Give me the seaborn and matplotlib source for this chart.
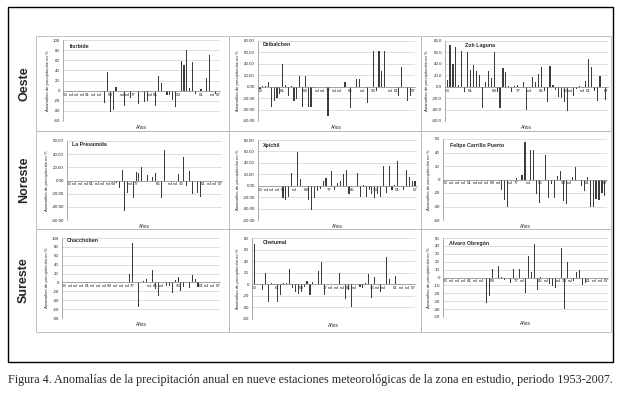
import pandas as pd
import matplotlib
matplotlib.use("Agg")
import matplotlib.pyplot as plt
from matplotlib.patches import Rectangle
from matplotlib.ticker import FormatStrFormatter, MultipleLocator
import seaborn as sns

# --- CONFIGURATION ---
W, H = 619, 393
BAR = "#3c3c3c"
GRID = "#c4c4c4"
BORDER = "#b8b8b8"

sns.set_theme(style="white")
plt.rcParams["font.family"] = ["Liberation Sans", "DejaVu Sans"]

nd = None  # sin dato

YEARS = list(range(1953, 2008))

ITURBIDE = [nd, nd, nd, nd, nd, nd, nd, nd, nd, nd,
            nd, nd, nd, nd, -25, 37, -43, -38, 8, nd,
            nd, -31, nd, -15, nd, nd, -26, nd, -23, -21,
            nd, nd, -31, 28, 15, nd, -8, -9, -18, -33,
            nd, 58, 51, 81, 6, 57, -6, nd, 3, nd,
            25, 71, nd, -6, nd]

DZIBALCHEN = [-4, 0.5, 1, 9, -35, -25, -20, -12, 39, 3,
              -16, 2, -25, -22, 19, -35, 19, -36, -36, -3,
              nd, nd, nd, nd, -51, nd, nd, nd, nd, nd,
              8, nd, -37, nd, 14, 13, nd, nd, -29, nd,
              63, -8, 63, 27, 62, nd, nd, nd, nd, -16,
              34, nd, -25, -17, nd]

ZOH_LAGUNA = [11, 73, 39, 69, 3, 62, -10, 60, 29, 38,
              27, 21, -38, 9, 28, 15, 60, -9, -38, 32,
              25, 2, -10, 0.5, 3, -1, 9, -41, nd, 17,
              8, 22, 35, -7, -26, 37, 3, -6, -18, -19,
              -26, -43, nd, -16, -4, 1, nd, 10, 49, 35,
              -7, -25, 19, nd, -23]

LA_PRESUMIDA = [nd, nd, nd, nd, nd, nd, nd, nd, nd, nd,
                nd, nd, nd, nd, nd, nd, nd, -4, -11, 16,
                -46, -19, nd, -27, 13, 12, 21, nd, 8, nd,
                6, 12, nd, -26, 46, nd, nd, nd, nd, 10,
                nd, 36, -8, 14, -21, nd, -19, -25, nd, nd,
                nd, nd, nd, nd, nd]

XPICHIL = [nd, nd, nd, nd, nd, nd, nd, nd, -22, -25,
           -19, 23, nd, 59, 11, nd, nd, -25, -43, -22,
           -10, -6, 8, 14, nd, 26, -8, 5, 8, 20,
           28, -14, -3, nd, 23, -19, 2, -19, -8, -14,
           -22, -15, -19, 35, -12, 35, -8, 2, 43, nd,
           -8, 27, 15, 8, 8]

FELIPE_CARRILLO = [nd, nd, nd, nd, nd, nd, nd, nd, nd, nd,
                   nd, nd, nd, nd, nd, nd, nd, nd, nd, -16,
                   -30, -40, nd, nd, 1.5, nd, 7, 55, nd, 43,
                   43, -21, -35, nd, 37, -28, -7, -27, 5, 13,
                   -32, -36, nd, 4, 19, nd, -10, -17, 3, -40,
                   -40, -29, -31, -20, -25]

CHACCHOBEN = [nd, nd, nd, nd, nd, nd, nd, nd, nd, nd,
              nd, nd, nd, nd, nd, nd, nd, nd, nd, nd,
              nd, 2, nd, 19, 88, nd, -56, nd, 4, 8,
              nd, 27, -14, -30, nd, nd, -7, -9, -24, 6,
              13, -20, -11, nd, -13, 17, 7, -11, nd, nd,
              nd, nd, nd, nd, nd]

CHETUMAL = [70, nd, 1, -10, 20, -31, 2, -1, -30, -19,
            3, 2, 26, -7, -13, -16, -14, -4, 5, -18,
            4, nd, 23, 38, -18, nd, nd, nd, nd, 19,
            nd, -26, -10, -39, nd, nd, -4, -6, 2, 18,
            -24, 13, nd, -14, nd, 48, 9, nd, 15, nd,
            nd, nd, nd, nd, nd]

ALVARO_OBREGON = [nd, nd, nd, nd, nd, nd, nd, nd, nd, nd,
                  nd, nd, nd, nd, -32, -23, 11, nd, 14, 0.5,
                  -3, nd, -7, 11, nd, 11, nd, -19, 27, 7,
                  43, -16, 0.5, nd, nd, -8, -11, -13, nd, 37,
                  -40, 19, nd, -5, 7, 10, -9, -7, nd, nd,
                  nd, nd, nd, nd, nd]

REGIONS = ["Oeste", "Noreste", "Sureste"]
CAPTION = ("Figura 4. Anomalías de la precipitación anual en nueve estaciones "
           "meteorológicas de la zona en estudio, periodo 1953-2007.")

# name, data, (ymin, ymax, step), tick format, plot area px (x0, x1, ytop, ybot), title px
PANELS = [
    ("Iturbide", ITURBIDE, (-60, 100, 20), "%d", (63, 220, 40, 121), (70, 46)),
    ("Dzibalchen", DZIBALCHEN, (-60, 80, 20), "%.2f", (258, 415, 41, 121), (263, 45)),
    ("Zoh Laguna", ZOH_LAGUNA, (-60, 80, 20), "%.1f", (445, 608, 41, 121), (465, 45)),
    ("La Presumida", LA_PRESUMIDA, (-60, 60, 20), "%.2f", (67, 222, 141, 220), (72, 145)),
    ("Xpichil", XPICHIL, (-60, 80, 20), "%.2f", (258, 417, 140, 220), (263, 145)),
    ("Felipe Carrillo Puerto", FELIPE_CARRILLO, (-60, 60, 20), "%d", (443, 607, 139, 220), (450, 145)),
    ("Chacchoben", CHACCHOBEN, (-80, 100, 20), "%d", (62, 220, 238, 318), (67, 241)),
    ("Chetumal", CHETUMAL, (-60, 80, 20), "%d", (252, 415, 238, 319), (263, 243)),
    ("Alvaro Obregón", ALVARO_OBREGON, (-50, 50, 10), "%d", (443, 608, 238, 317), (449, 243)),
]

COLS = [(36, 229), (229, 421), (421, 611)]
ROWS = [(36, 131), (131, 229), (229, 332)]


def fx(x):
    return x / W


def fy(y):
    return 1 - y / H


def tick_labels(values):
    labels = []
    for i in range(0, len(YEARS), 2):
        if i % 8 == 0 or i == len(YEARS) - 1:
            labels.append(str(YEARS[i])[-2:])
        elif values[i] is None:
            labels.append("nd")
        else:
            labels.append("")
    return labels


def draw_panel(fig, name, values, yrange, fmt, area, title_xy):
    x0, x1, yt, yb = area
    ax = fig.add_axes([fx(x0), fy(yb), fx(x1 - x0), (yb - yt) / H])
    df = pd.DataFrame({"idx": range(len(YEARS)), "anom": values}).dropna()
    sns.barplot(data=df, x="idx", y="anom", native_scale=True, color=BAR,
                width=0.38, errorbar=None, saturation=1, linewidth=0,
                edgecolor=BAR, ax=ax)

    lo, hi, step = yrange
    ax.set_ylim(lo, hi)
    ax.set_xlim(-0.7, len(YEARS) - 0.3)
    ax.yaxis.set_major_locator(MultipleLocator(step))
    ax.yaxis.set_major_formatter(FormatStrFormatter(fmt))
    ax.yaxis.grid(True, color=GRID, lw=0.4)
    ax.set_axisbelow(True)

    ax.spines["bottom"].set_position(("data", 0))
    ax.spines["bottom"].set_color("#8a8a8a")
    ax.spines["bottom"].set_linewidth(0.5)
    ax.spines["left"].set_color("#8a8a8a")
    ax.spines["left"].set_linewidth(0.5)
    ax.spines["top"].set_visible(False)
    ax.spines["right"].set_visible(False)

    ax.set_xticks(range(0, len(YEARS), 2))
    ax.set_xticklabels(tick_labels(values))
    ax.set_xticks(range(len(YEARS)), minor=True)
    ax.tick_params(axis="x", which="both", direction="inout", length=1.6,
                   width=0.4, color="#8a8a8a", labelsize=3.2, pad=0.6)
    ax.tick_params(axis="y", length=1.2, width=0.4, color="#8a8a8a",
                   labelsize=3.2, pad=1)
    ax.set_xlabel("")
    ax.set_ylabel("Anomalías de precipitación en %", fontsize=3.1, labelpad=2)

    ax.text(0.5, -0.05, "Años", transform=ax.transAxes, ha="center",
            va="top", fontsize=3.4)
    fig.text(fx(title_xy[0]), fy(title_xy[1]), name, fontsize=3.8,
             fontweight="bold", ha="left", va="center")
    return ax


def main():
    fig = plt.figure(figsize=(W / 100, H / 100), dpi=100)
    fig.patch.set_facecolor("white")

    # chart borders
    for r, (ry0, ry1) in enumerate(ROWS):
        for c, (cx0, cx1) in enumerate(COLS):
            fig.add_artist(Rectangle((fx(cx0), fy(ry1)), fx(cx1 - cx0),
                                     (ry1 - ry0) / H, transform=fig.transFigure,
                                     fill=False, ec=BORDER, lw=0.6))
    fig.add_artist(Rectangle((fx(8), fy(362)), fx(605), 355 / H,
                             transform=fig.transFigure, fill=False,
                             ec="black", lw=1.0))

    for name, values, yrange, fmt, area, title_xy in PANELS:
        draw_panel(fig, name, values, yrange, fmt, area, title_xy)

    for region, (ry0, ry1) in zip(REGIONS, ROWS):
        fig.text(fx(24), fy((ry0 + ry1) / 2), region, rotation=90,
                 fontsize=9, fontweight="bold", ha="center", va="center")

    fig.text(fx(8), fy(380), CAPTION, fontsize=8.7, ha="left", va="center",
             family=["Liberation Serif", "DejaVu Serif"])

    fig.savefig("out.png", dpi=100)
    plt.close(fig)


if __name__ == "__main__":
    main()
